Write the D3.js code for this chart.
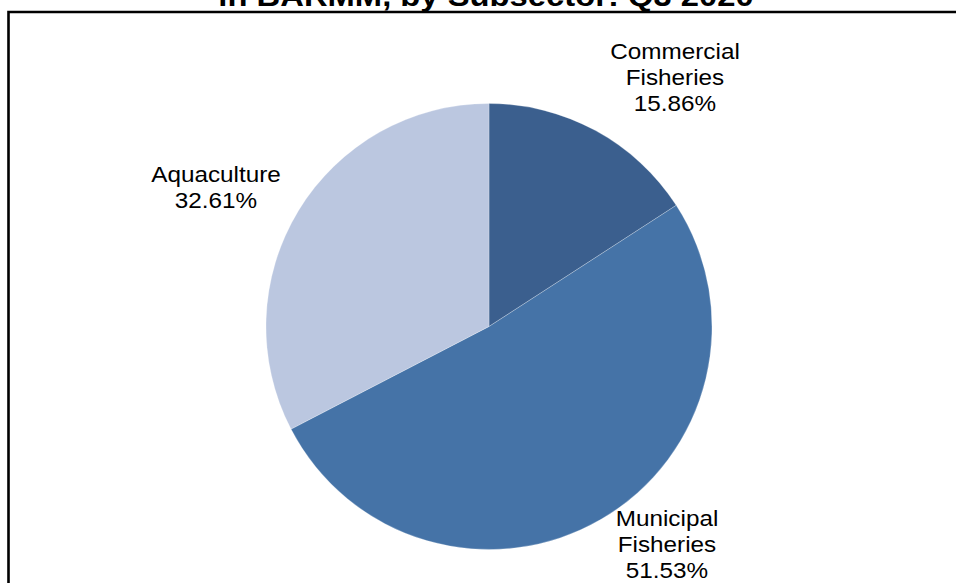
<!DOCTYPE html>
<html>
<head>
<meta charset="utf-8">
<script src="https://cdn.jsdelivr.net/npm/d3@7"></script>
<style>
  html, body { margin: 0; padding: 0; background: #fff; overflow: hidden; }
  svg { display: block; }
</style>
</head>
<body>
<svg id="chart" width="956" height="583"></svg>
<script>
const titleLine = "in BARMM, by Subsector: Q3 2020";
const categories = ["Commercial Fisheries", "Municipal Fisheries", "Aquaculture"];
const labelLines = [["Commercial", "Fisheries"], ["Municipal", "Fisheries"], ["Aquaculture"]];
const values = [15.86, 51.53, 32.61];
const colors = ["#3B5F8E", "#4573A7", "#BBC7E0"];

const svg = d3.select("#chart");
const W = 956, H = 583;

// frame (top & left edges visible)
svg.append("path")
  .attr("d", `M8.5,${H + 5} L8.5,12 L${W + 5},12`)
  .attr("fill", "none")
  .attr("stroke", "#000")
  .attr("stroke-width", 2.6);

// title (cut off at top, as in the reference)
svg.append("text")
  .attr("transform", "translate(486,6) scale(1.13,1)")
  .attr("text-anchor", "middle")
  .attr("font-family", "Liberation Sans, Arial, sans-serif")
  .attr("font-weight", "bold")
  .attr("font-size", 29)
  .attr("fill", "#000")
  .text(titleLine);

const cx = 489, cy = 326.5, r = 223;
const data = categories.map((c, i) => ({ name: c, value: values[i], lines: labelLines[i], color: colors[i] }));

const pie = d3.pie().value(d => d.value).sort(null);
const arc = d3.arc().innerRadius(0).outerRadius(r);
const arcs = pie(data);

const g = svg.append("g").attr("transform", `translate(${cx},${cy})`);
g.selectAll("path.slice")
  .data(arcs)
  .enter().append("path")
  .attr("class", "slice")
  .attr("d", arc)
  .attr("fill", d => d.data.color)
  .attr("stroke", "rgba(255,255,255,0.35)")
  .attr("stroke-width", 0.7);

const labelPos = [
  { x: 675, y: 59 },
  { x: 667, y: 526 },
  { x: 216, y: 182 }
];
const lineH = 26;
arcs.forEach((a, i) => {
  const lines = a.data.lines.concat([d3.format(".2f")(a.data.value) + "%"]);
  const t = svg.append("text")
    .attr("transform", `translate(${labelPos[i].x},${labelPos[i].y}) scale(1.13,1)`)
    .attr("text-anchor", "middle")
    .attr("font-family", "Liberation Sans, Arial, sans-serif")
    .attr("font-size", 21.5)
    .attr("fill", "#000");
  lines.forEach((ln, j) => {
    t.append("tspan")
      .attr("x", 0)
      .attr("y", j * lineH)
      .text(ln);
  });
});
</script>
</body>
</html>
